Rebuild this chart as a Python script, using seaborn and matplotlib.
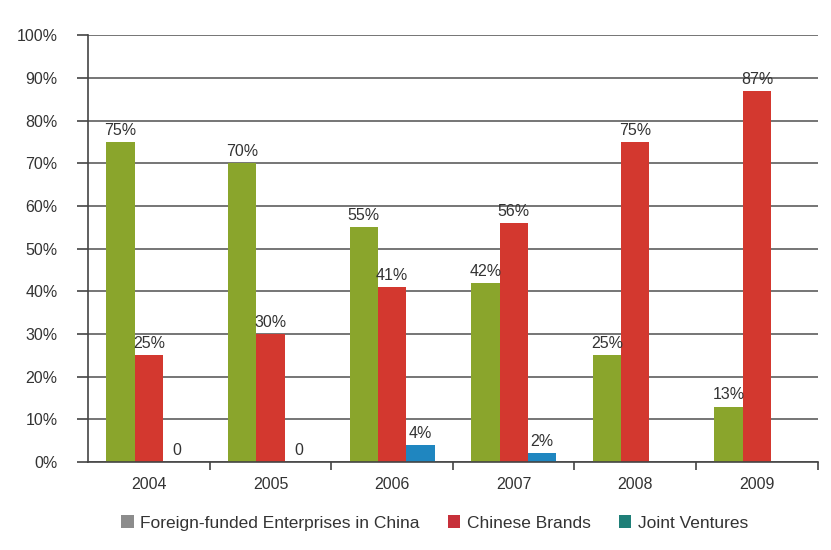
import pandas as pd
import numpy as np
import matplotlib
matplotlib.use('Agg')
import matplotlib.pyplot as plt
import seaborn as sns
from matplotlib.patches import Patch

# dados
anos = ['2004', '2005', '2006', '2007', '2008', '2009']
series = ['Foreign-funded Enterprises in China', 'Chinese Brands', 'Joint Ventures']
estrangeiras = [75, 70, 55, 42, 25, 13]
marcas_chinesas = [25, 30, 41, 56, 75, 87]
joint_ventures = [0, 0, 4, 2, None, None]   # None = sem barra / sem rótulo
y_ticks = [0, 10, 20, 30, 40, 50, 60, 70, 80, 90, 100]

cores_barras = ['#8aa52c', '#d3382f', '#1f86c0']
cores_legenda = ['#8c8c8c', '#c7303a', '#1f7f78']

df = pd.DataFrame({
    'ano': anos * 3,
    'serie': [series[0]] * 6 + [series[1]] * 6 + [series[2]] * 6,
    'valor': estrangeiras + marcas_chinesas + joint_ventures,
})
df['valor_plot'] = df['valor'].fillna(0)

sns.set_style('white')
plt.rcParams['font.family'] = ['Liberation Sans', 'DejaVu Sans']

fig = plt.figure(figsize=(8.31, 5.5), dpi=100)
ax = fig.add_axes([0.106, 0.16, 0.878, 0.776])

sns.barplot(data=df, x='ano', y='valor_plot', hue='serie', order=anos,
            hue_order=series, palette=cores_barras, width=0.7,
            saturation=1, legend=False, linewidth=0, ax=ax)

# rótulos das barras
for serie, cont in zip(series, ax.containers):
    vals = df[df['serie'] == serie]['valor'].tolist()
    labels = []
    for v in vals:
        if v is None or pd.isna(v):
            labels.append('')
        elif v == 0:
            labels.append('0')
        else:
            labels.append(f'{int(v)}%')
    ax.bar_label(cont, labels=labels, padding=3, fontsize=11.5, color='#333333')

ax.set_ylim(0, 100)
ax.set_xlim(-0.5, 5.5)
ax.set_yticks(y_ticks)
ax.set_yticklabels([f'{t}%' for t in y_ticks])
ax.set_xlabel('')
ax.set_ylabel('')

ax.grid(axis='y', color='#6a6a6a', linewidth=1.3)
ax.set_axisbelow(True)

for s in ['top', 'right']:
    ax.spines[s].set_visible(False)
for s in ['left', 'bottom']:
    ax.spines[s].set_color('#444444')
    ax.spines[s].set_linewidth(1.2)

ax.tick_params(axis='y', length=8, width=1.2, color='#444444', pad=14,
               labelsize=11.5, labelcolor='#333333', left=True)
ax.tick_params(axis='x', which='major', length=0, pad=11, labelsize=11.5,
               labelcolor='#333333')
ax.set_xticks(np.arange(0.5, 6, 1), minor=True)
ax.tick_params(axis='x', which='minor', length=6, width=1.2, color='#444444',
               bottom=True)

handles = [Patch(facecolor=c, edgecolor='none') for c in cores_legenda]
fig.legend(handles, series, loc='center', bbox_to_anchor=(0.523, 0.049),
           ncol=3, frameon=False, fontsize=12.5, handlelength=0.7,
           handleheight=0.7, handletextpad=0.4, columnspacing=1.6,
           labelcolor='#333333')

fig.savefig('out.png', dpi=100)
